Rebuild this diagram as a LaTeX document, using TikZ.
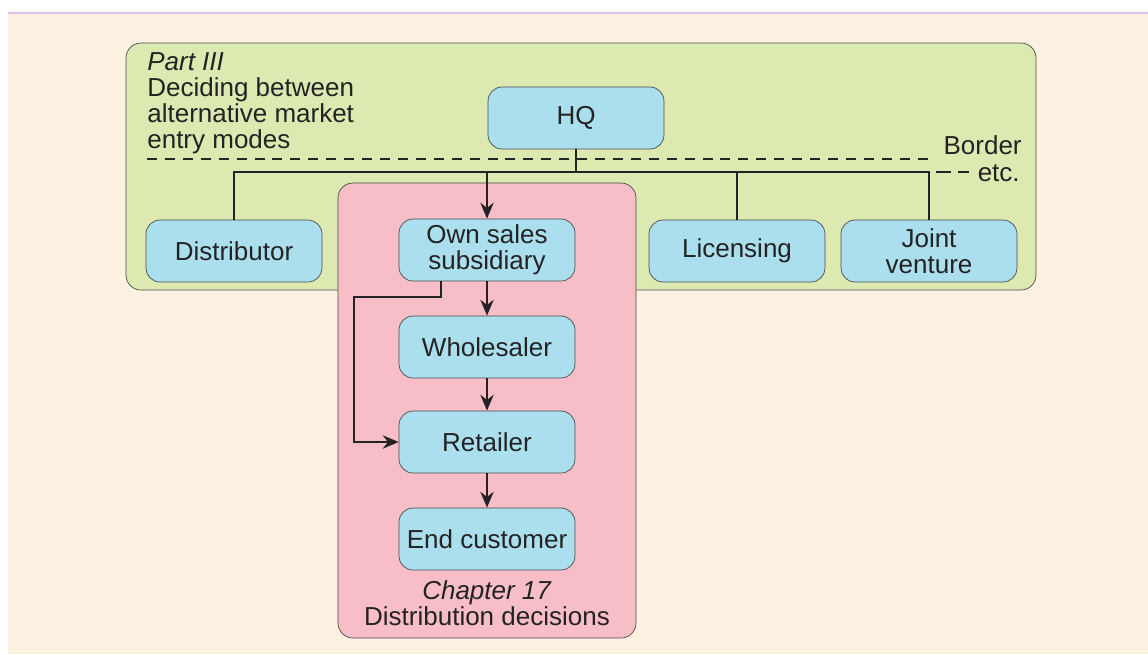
\documentclass[tikz,border=0pt]{standalone}
\usepackage{fontspec}
\setmainfont{Liberation Sans}
\usepackage{tikz}
\usetikzlibrary{arrows.meta, positioning, calc}
\usepackage{xcolor}
\definecolor{cream}{RGB}{253,241,225}
\definecolor{partgreen}{RGB}{220,234,177}
\definecolor{chappink}{RGB}{248,190,199}
\definecolor{boxblue}{RGB}{172,223,238}
\definecolor{edgegray}{RGB}{75,75,75}
\definecolor{inkdark}{RGB}{35,35,35}

\begin{document}
\begin{tikzpicture}[x=0.02cm, y=-0.02cm,
    every node/.style={font=\fontsize{14.8}{14.8}\selectfont, text=inkdark},
    plaintext/.style={inner sep=0pt},
    modebox/.style={draw=edgegray, fill=boxblue, rounded corners=0.28cm,
      minimum width=3.52cm, minimum height=1.24cm, align=center, inner sep=1pt},
    link/.style={draw=inkdark, line width=1.5pt},
    arr/.style={link, -{Stealth[length=9pt, width=7.5pt]}}]
  \useasboundingbox (0,0) rectangle (1148,654);
  \fill[white] (0,0) rectangle (1148,654);
  \fill[cream] (8,13) rectangle (1148,654);
  \draw[violet!25, line width=0.8pt] (8,13) -- (1148,13);
  % panels
  \draw[edgegray, fill=partgreen, rounded corners=0.3cm] (126,43) rectangle (1036,290);
  \draw[edgegray, fill=chappink, rounded corners=0.3cm] (338,183) rectangle (636,638);
  \node[plaintext, anchor=base west, align=left] (part) at (147,148)
    {\textit{Part III}\\Deciding between\\alternative market\\entry modes};
  \node[plaintext, anchor=base, align=center] (chap) at (487,625)
    {\textit{Chapter 17}\\Distribution decisions};
  % border
  \draw[inkdark, line width=1.3pt, dash pattern=on 5.7pt off 4.5pt] (147,159) -- (930,159);
  \node[plaintext, anchor=base east] (border) at (1022,154) {Border};
  \node[plaintext, anchor=base east] (etc) at (1020,181) {etc.};
  \draw[inkdark, line width=0.7pt, dash pattern=on 8.5pt off 4pt] (936,172) -- ([xshift=-4.5pt]etc.west |- 0,172);
  % boxes
  \node[modebox] (hq) at (576,118) {HQ};
  \node[modebox] (dist) at (234,251) {Distributor};
  \node[modebox] (own) at (487,250) {Own sales\\subsidiary};
  \node[modebox] (lic) at (737,251) {Licensing};
  \node[modebox] (joint) at (929,251) {Joint\\venture};
  \node[modebox] (whole) at (487,347) {Wholesaler};
  \node[modebox] (retail) at (487,442) {Retailer};
  \node[modebox] (endc) at (487,539) {End customer};
  % connectors
  \coordinate (bus) at (576,172);
  \coordinate (bend) at (354,297);
  \draw[link] (hq.south) -- (bus);
  \draw[link] (dist.north) |- (bus) -| (joint.north);
  \draw[link] (lic.north) -- (lic.north |- bus);
  \draw[arr] (own.north |- bus) -- (own.north);
  \draw[arr] (own) -- (whole);
  \draw[arr] (whole) -- (retail);
  \draw[arr] (retail) -- (endc);
  \draw[arr] ([xshift=-0.92cm]own.south) |- (bend) |- (retail.west);
\end{tikzpicture}
\end{document}
